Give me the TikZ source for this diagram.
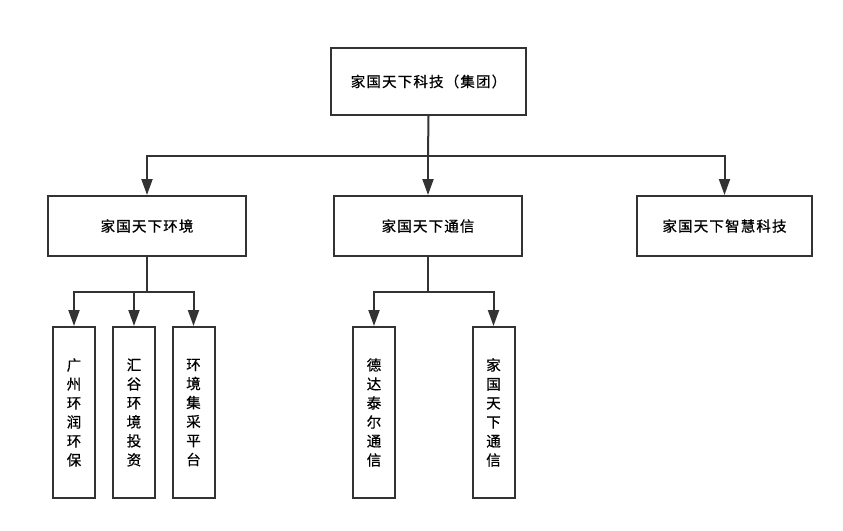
\documentclass[tikz,border=0pt]{standalone}
\usepackage{fontspec}
\newfontfamily\cjk[FakeBold=0.6,LetterSpace=8]{Noto Sans CJK SC}
\usetikzlibrary{arrows.meta}
\definecolor{linegray}{HTML}{333333}
\tikzset{
  box/.style={draw=linegray, line width=2pt, fill=white, inner sep=0pt, font=\cjk\fontsize{14.5}{19}\selectfont, text=black, align=center},
  vbox/.style={box, minimum width=42pt, minimum height=171pt},
  conn/.style={draw=linegray, line width=2pt},
  arr/.style={conn, -{Triangle[length=16pt,width=11pt]}}
}
\begin{document}
\begin{tikzpicture}[x=1pt,y=-1pt]
\useasboundingbox (0,0) rectangle (843,530);
\node[box, minimum width=195pt, minimum height=67pt] (top) at (428.5,81.5) {家国天下科技（集团）};
\node[box, minimum width=198pt, minimum height=60pt] (L) at (147,226) {家国天下环境};
\node[box, minimum width=188pt, minimum height=60pt] (M) at (428,226) {家国天下通信};
\node[box, minimum width=175pt, minimum height=60pt] (R) at (724.5,226) {家国天下智慧科技};
\node[vbox] (L1) at (74,412.5) {广\\州\\环\\润\\环\\保};
\node[vbox] (L2) at (134,412.5) {汇\\谷\\环\\境\\投\\资};
\node[vbox] (L3) at (193.5,412.5) {环\\境\\集\\采\\平\\台};
\node[vbox] (M1) at (374,412.5) {德\\达\\泰\\尔\\通\\信};
\node[vbox] (M2) at (493.5,412.5) {家\\国\\天\\下\\通\\信};
\coordinate (bus0) at (428,156);
\coordinate (busL) at (147,292);
\coordinate (busM) at (428,292);
\draw[conn] (top.south) -- (bus0);
\draw[arr] (bus0) -| (L.north);
\draw[arr] (bus0) -- (M.north);
\draw[arr] (bus0) -| (R.north);
\draw[conn] (L.south) -- (busL);
\draw[arr] (busL) -| (L1.north);
\draw[arr] (busL) -| (L2.north);
\draw[arr] (busL) -| (L3.north);
\draw[conn] (M.south) -- (busM);
\draw[arr] (busM) -| (M1.north);
\draw[arr] (busM) -| (M2.north);
\end{tikzpicture}
\end{document}
